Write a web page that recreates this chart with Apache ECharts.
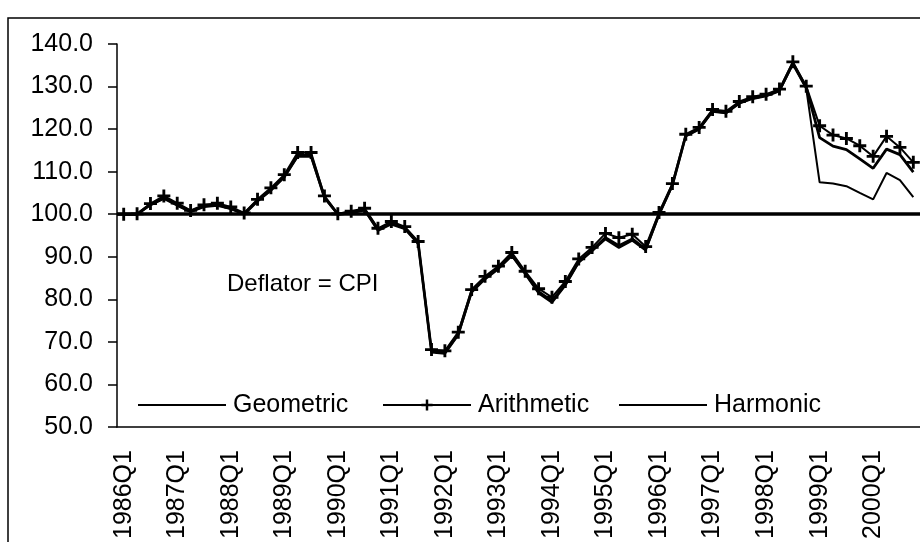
<!DOCTYPE html>
<html>
<head>
<meta charset="utf-8">
<script src="https://cdn.jsdelivr.net/npm/echarts@6/dist/echarts.min.js"></script>
<style>
  html, body { margin: 0; padding: 0; background: #fff; }
  #chartBox { width: 920px; height: 542px; }
</style>
</head>
<body>
<div id="chartBox"></div>
<script>
// quarters 1986Q1 .. 2000Q4
var years = [1986, 1987, 1988, 1989, 1990, 1991, 1992, 1993, 1994, 1995, 1996, 1997, 1998, 1999, 2000];
var quarters = [];
years.forEach(function (y) {
  for (var q = 1; q <= 4; q++) quarters.push(y + "Q" + q);
});

var geometric = [
  100.0, 100.0, 102.3, 103.9, 102.3, 100.7, 101.9, 102.3, 101.4, 100.1,
  103.2, 105.8, 108.9, 113.8, 113.8, 104.0, 100.0, 100.5, 101.1, 96.4,
  97.9, 96.8, 93.3, 67.8, 67.5, 71.9, 81.9, 85.0, 87.4, 90.5,
  86.2, 81.8, 79.6, 83.6, 88.9, 91.6, 94.5, 92.6, 94.2, 91.8,
  100.0, 106.9, 118.5, 120.1, 124.3, 123.9, 126.2, 127.3, 127.9, 129.1,
  135.5, 129.8, 118.0, 116.0, 115.2, 113.0, 110.8, 115.3, 114.0, 109.9
];
var arithmetic = [
  100.0, 100.1, 102.5, 104.3, 102.6, 100.9, 102.2, 102.6, 101.7, 100.3,
  103.5, 106.2, 109.3, 114.5, 114.5, 104.3, 100.1, 100.7, 101.4, 96.7,
  98.3, 97.1, 93.6, 68.2, 67.9, 72.3, 82.3, 85.4, 87.8, 91.0,
  86.6, 82.5, 80.5, 84.2, 89.5, 92.2, 95.5, 94.5, 95.3, 92.4,
  100.4, 107.2, 118.8, 120.4, 124.6, 124.2, 126.5, 127.6, 128.2, 129.4,
  135.8, 130.1, 120.8, 118.6, 117.8, 116.1, 113.6, 118.3, 115.7, 112.2
];
var harmonic = [
  100.0, 99.9, 102.1, 103.6, 102.0, 100.5, 101.7, 102.0, 101.2, 99.9,
  103.0, 105.5, 108.6, 113.5, 113.5, 103.8, 99.9, 100.3, 100.9, 96.1,
  97.6, 96.5, 93.0, 67.5, 67.2, 71.6, 81.6, 84.7, 87.1, 90.2,
  85.9, 81.4, 79.2, 83.2, 88.6, 91.3, 94.1, 92.1, 93.8, 91.5,
  99.8, 106.7, 118.3, 119.9, 124.1, 123.7, 126.0, 127.1, 127.7, 128.9,
  135.2, 129.5, 107.5, 107.2, 106.6, 105.0, 103.5, 109.7, 108.0, 104.0
];

var FONT = "'Liberation Sans', Arial, sans-serif";
var PLUS = "path://M0,3.9H10V6.1H0Z M3.9,0H6.1V10H3.9Z";

var chart = echarts.init(document.getElementById("chartBox"));

function legendAt(name, left, showSymbol) {
  return {
    data: [name],
    left: left,
    top: 391,
    orient: "horizontal",
    itemWidth: 88,
    itemHeight: 14,
    itemGap: 0,
    padding: 0,
    itemStyle: showSymbol ? {} : { opacity: 0 },
    textStyle: { fontFamily: FONT, fontSize: 25, color: "#000", lineHeight: 28, padding: [0, 0, 0, 2] },
    inactiveColor: "#000",
    selectedMode: false
  };
}

var option = {
  animation: false,
  backgroundColor: "#fff",
  grid: { left: 117, top: 44, width: 807, height: 385, containLabel: false },
  legend: [
    legendAt("Geometric", 137, false),
    legendAt("Arithmetic", 382, true),
    legendAt("Harmonic", 618, false)
  ],
  graphic: [
    {
      type: "rect",
      shape: { x: 8, y: 18, width: 1000, height: 1000 },
      style: { fill: "none", stroke: "#000", lineWidth: 1.5 },
      silent: true
    },
    {
      type: "text",
      left: 227,
      top: 272,
      style: { text: "Deflator = CPI", fontFamily: FONT, fontSize: 24, fill: "#000" },
      silent: true
    }
  ],
  xAxis: {
    type: "category",
    data: quarters,
    boundaryGap: true,
    axisLine: { lineStyle: { color: "#000", width: 1.5 } },
    axisTick: { interval: 0, length: 6, lineStyle: { color: "#000", width: 1.5 } },
    axisLabel: {
      interval: 3,
      rotate: 90,
      margin: 23,
      fontFamily: FONT,
      fontSize: 25,
      color: "#000"
    },
    splitLine: { show: false }
  },
  yAxis: {
    type: "value",
    min: 50,
    max: 140,
    interval: 10,
    axisLine: { show: true, lineStyle: { color: "#000", width: 1.5 } },
    axisTick: { show: true, length: 9, lineStyle: { color: "#000", width: 1.5 } },
    axisLabel: {
      margin: 24,
      fontFamily: FONT,
      fontSize: 25,
      color: "#000",
      formatter: function (v) { return v.toFixed(1); }
    },
    splitLine: { show: false }
  },
  series: [
    {
      name: "Geometric",
      type: "line",
      data: geometric,
      symbol: "none",
      color: "#000",
      lineStyle: { color: "#000", width: 2.8 },
      markLine: {
        silent: true,
        symbol: "none",
        label: { show: false },
        lineStyle: { color: "#000", width: 3.5, type: "solid" },
        data: [{ yAxis: 100 }]
      }
    },
    {
      name: "Arithmetic",
      type: "line",
      data: arithmetic,
      symbol: PLUS,
      symbolSize: 13,
      showAllSymbol: true,
      color: "#000",
      itemStyle: { color: "#000" },
      lineStyle: { color: "#000", width: 2 }
    },
    {
      name: "Harmonic",
      type: "line",
      data: harmonic,
      symbol: "none",
      color: "#000",
      lineStyle: { color: "#000", width: 2 }
    }
  ]
};

chart.setOption(option);
</script>
</body>
</html>
